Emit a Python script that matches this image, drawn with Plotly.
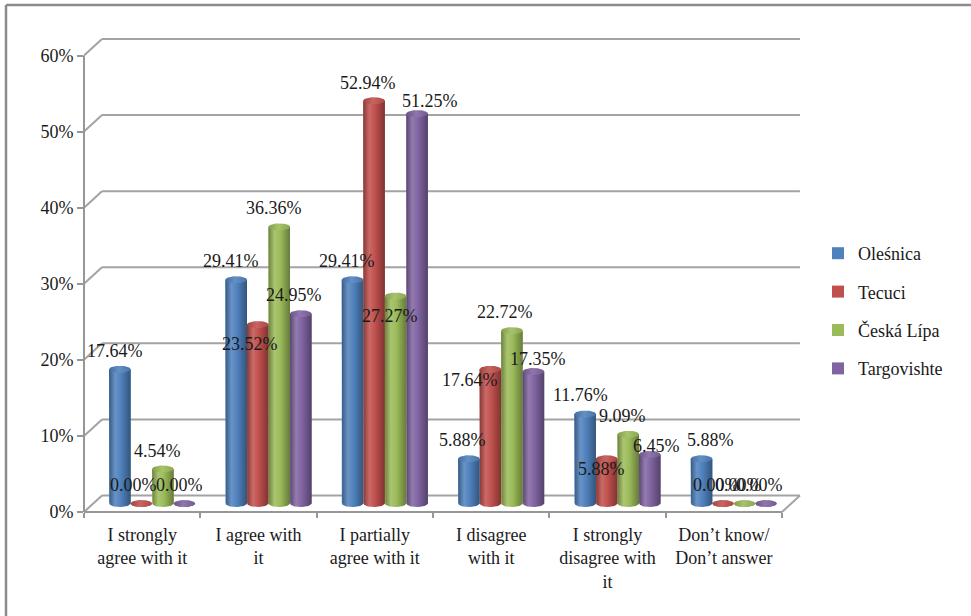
import numpy as np
import plotly.graph_objects as go

# ---- data -------------------------------------------------------------
categories = [
    "I strongly<br>agree with it",
    "I agree with<br>it",
    "I partially<br>agree with it",
    "I disagree<br>with it",
    "I strongly<br>disagree with<br>it",
    "Don’t know/<br>Don’t answer",
]
series_names = ["Oleśnica", "Tecuci", "Česká Lípa", "Targovishte"]
olesnica = [17.64, 29.41, 29.41, 5.88, 11.76, 5.88]
tecuci = [0.00, 23.52, 52.94, 17.64, 5.88, 0.00]
ceska_lipa = [4.54, 36.36, 27.27, 22.72, 9.09, 0.00]
targovishte = [0.00, 24.95, 51.25, 17.35, 6.45, 0.00]
y_tick_values = [0, 10, 20, 30, 40, 50, 60]

series_values = [olesnica, tecuci, ceska_lipa, targovishte]

# ---- styling ----------------------------------------------------------
colors = ["#4F81BD", "#C0504D", "#9BBB59", "#8064A2"]
FONT = "'Liberation Serif', 'DejaVu Serif', serif"
TEXT = "#1a1a1a"
GRID = "#a3a3a3"

# data-label nudges (pixels) so labels sit where the 3-D renderer puts them
label_nudge = [
    [(-5, 18), (-5, 19), (-5.5, 19), (-6, 19), (-5, 19), (8.5, 19)],
    [(-8, 18.5), (-8, -19.5), (-6, 18), (-20, -11), (-5.5, -10), (-6.5, 18.5)],
    [(-5, 18), (-5, 19), (-5.5, -19.5), (-7, 19), (-6, 18.5), (-6.5, 18.5)],
    [(-4.5, 18.5), (-7, 19), (13, 12.5), (5, 13), (6.5, 8.5), (-6.5, 18.5)],
]

W, H = 971, 616
ML, MR, MT, MB = 84, 170, 39, 104
PLOT_W = W - ML - MR
PLOT_H = H - MT - MB
PX_PER_CAT = 116.33
PX_PER_PCT = 7.608

X0 = -0.5
X1 = X0 + PLOT_W / PX_PER_CAT
Y0 = 0.0
Y1 = PLOT_H / PX_PER_PCT

# depth of the 3-D box (back wall offset) and position of the bar row
DEPTH_X = 18 / PX_PER_CAT
DEPTH_Y = 16.5 / PX_PER_PCT
BAR_SHIFT_X = 10 / PX_PER_CAT
BAR_SHIFT_Y = 8.5 / PX_PER_PCT

BARGAP = 0.26
BAR_W = (1 - BARGAP) / len(series_names)
RX = BAR_W / 2
RY = 3.5 / PX_PER_PCT


def shade(hex_color, f):
    h = hex_color.lstrip("#")
    r, g, b = (int(h[i:i + 2], 16) for i in (0, 2, 4))
    if f >= 1:
        r, g, b = (int(c + (255 - c) * (f - 1)) for c in (r, g, b))
    else:
        r, g, b = (int(c * f) for c in (r, g, b))
    return f"rgb({r},{g},{b})"


def to_paper(x, y):
    return (x - X0) / (X1 - X0), (y - Y0) / (Y1 - Y0)


fig = go.Figure()

# invisible trace keeps the front (labelled) axes alive
fig.add_trace(go.Scatter(x=[0], y=[0], mode="markers", marker=dict(opacity=0),
                         showlegend=False, hoverinfo="skip"))

# bars on the shifted axes
for s, name in enumerate(series_names):
    fig.add_trace(go.Bar(
        x=list(range(len(categories))), y=series_values[s], name=name,
        marker=dict(color=colors[s], line=dict(width=0)),
        xaxis="x2", yaxis="y2", legendgroup=name,
    ))

# cylinder shading: body + rounded bottom, then the top cap
t_bot = np.linspace(np.pi, 2 * np.pi, 40)
t_all = np.linspace(0, 2 * np.pi, 60)
for s, name in enumerate(series_names):
    c = colors[s]
    body_scale = [[0, shade(c, 0.70)], [0.28, shade(c, 1.15)],
                  [0.55, c], [1, shade(c, 0.66)]]
    cap_scale = [[0, shade(c, 0.85)], [0.45, shade(c, 1.12)], [1, shade(c, 0.9)]]
    for i, v in enumerate(series_values[s]):
        cx = i + (s - 1.5) * BAR_W
        bx = cx - RX * np.cos(t_bot - np.pi)
        by = RY * np.sin(t_bot)
        xs = [cx - RX] + list(bx) + [cx + RX, cx - RX]
        ys = [v] + list(by) + [v, v]
        fig.add_trace(go.Scatter(
            x=xs, y=ys, mode="lines", line=dict(width=0), fill="toself",
            fillgradient=dict(type="horizontal", colorscale=body_scale),
            xaxis="x2", yaxis="y2", showlegend=False, hoverinfo="skip",
            legendgroup=name,
        ))
        fig.add_trace(go.Scatter(
            x=cx + RX * np.cos(t_all), y=v + RY * np.sin(t_all),
            mode="lines", line=dict(width=0), fill="toself",
            fillgradient=dict(type="horizontal", colorscale=cap_scale),
            xaxis="x2", yaxis="y2", showlegend=False, hoverinfo="skip",
            legendgroup=name,
        ))

# value labels
annotations = []
for s, name in enumerate(series_names):
    for i, v in enumerate(series_values[s]):
        dx, dy = label_nudge[s][i]
        annotations.append(dict(
            x=i + (s - 1.5) * BAR_W, y=v, xref="x2", yref="y2",
            text=f"{v:.2f}%", showarrow=False, xanchor="center", yanchor="middle",
            xshift=dx, yshift=dy, font=dict(family=FONT, size=18, color=TEXT),
        ))

# 3-D box: side-wall diagonals, back-wall gridlines, front axes
shapes = []


def seg(xa, ya, xb, yb, color=GRID, width=2):
    pa, pb = to_paper(xa, ya), to_paper(xb, yb)
    shapes.append(dict(type="line", xref="paper", yref="paper",
                       x0=pa[0], y0=pa[1], x1=pb[0], y1=pb[1],
                       line=dict(color=color, width=width), layer="below"))


for k in y_tick_values:
    seg(X0, k, X0 + DEPTH_X, k + DEPTH_Y)
    seg(X0 + DEPTH_X, k + DEPTH_Y, len(categories) - 0.5 + DEPTH_X, k + DEPTH_Y)
seg(X0, 0, X0, y_tick_values[-1], color="#979797")
seg(X0, 0, len(categories) - 0.5, 0, color="#979797")
seg(len(categories) - 0.5, 0, len(categories) - 0.5 + DEPTH_X, DEPTH_Y)

# chart-area frame (top and left edges)
shapes.append(dict(type="line", xref="paper", yref="paper",
                   x0=(6 - ML) / PLOT_W, x1=(W + 5 - ML) / PLOT_W,
                   y0=(H - MB - 5) / PLOT_H, y1=(H - MB - 5) / PLOT_H,
                   line=dict(color="#8c8c8c", width=2.5)))
shapes.append(dict(type="line", xref="paper", yref="paper",
                   x0=(6 - ML) / PLOT_W, x1=(6 - ML) / PLOT_W,
                   y0=(H - MB - 5) / PLOT_H, y1=-(MB + 5) / PLOT_H,
                   line=dict(color="#8c8c8c", width=2.5)))

fig.update_layout(
    width=W, height=H,
    margin=dict(l=ML, r=MR, t=MT, b=MB, pad=0),
    paper_bgcolor="white", plot_bgcolor="rgba(0,0,0,0)",
    barmode="group", bargap=BARGAP, bargroupgap=0,
    font=dict(family=FONT, size=18, color=TEXT),
    xaxis=dict(
        range=[X0, X1], tickvals=list(range(len(categories))), ticktext=categories,
        ticks="", showgrid=False, zeroline=False, showline=False,
        ticklabelstandoff=10,
        tickfont=dict(family=FONT, size=18, color=TEXT),
        minor=dict(tickvals=[i - 0.5 for i in range(len(categories) + 1)],
                   ticks="outside", ticklen=5, tickwidth=2, tickcolor="#979797"),
        fixedrange=True,
    ),
    yaxis=dict(
        range=[Y0, Y1], tickvals=y_tick_values,
        ticktext=[f"{v}%" for v in y_tick_values],
        ticks="outside", ticklen=6, tickwidth=2, tickcolor="#979797",
        ticklabelstandoff=0,
        showgrid=False, zeroline=False, showline=False,
        tickfont=dict(family=FONT, size=18, color=TEXT), fixedrange=True,
    ),
    xaxis2=dict(range=[X0 - BAR_SHIFT_X, X1 - BAR_SHIFT_X], overlaying="x",
                anchor="y2", visible=False, fixedrange=True),
    yaxis2=dict(range=[Y0 - BAR_SHIFT_Y, Y1 - BAR_SHIFT_Y], overlaying="y",
                anchor="x2", visible=False, fixedrange=True),
    legend=dict(
        x=(818 - ML) / PLOT_W, y=(H - MB - 235) / PLOT_H,
        xanchor="left", yanchor="top", traceorder="grouped",
        tracegroupgap=12, bgcolor="rgba(0,0,0,0)",
        font=dict(family=FONT, size=18, color=TEXT),
    ),
    annotations=annotations,
    shapes=shapes,
    showlegend=True,
)

fig.write_html("out.html")
